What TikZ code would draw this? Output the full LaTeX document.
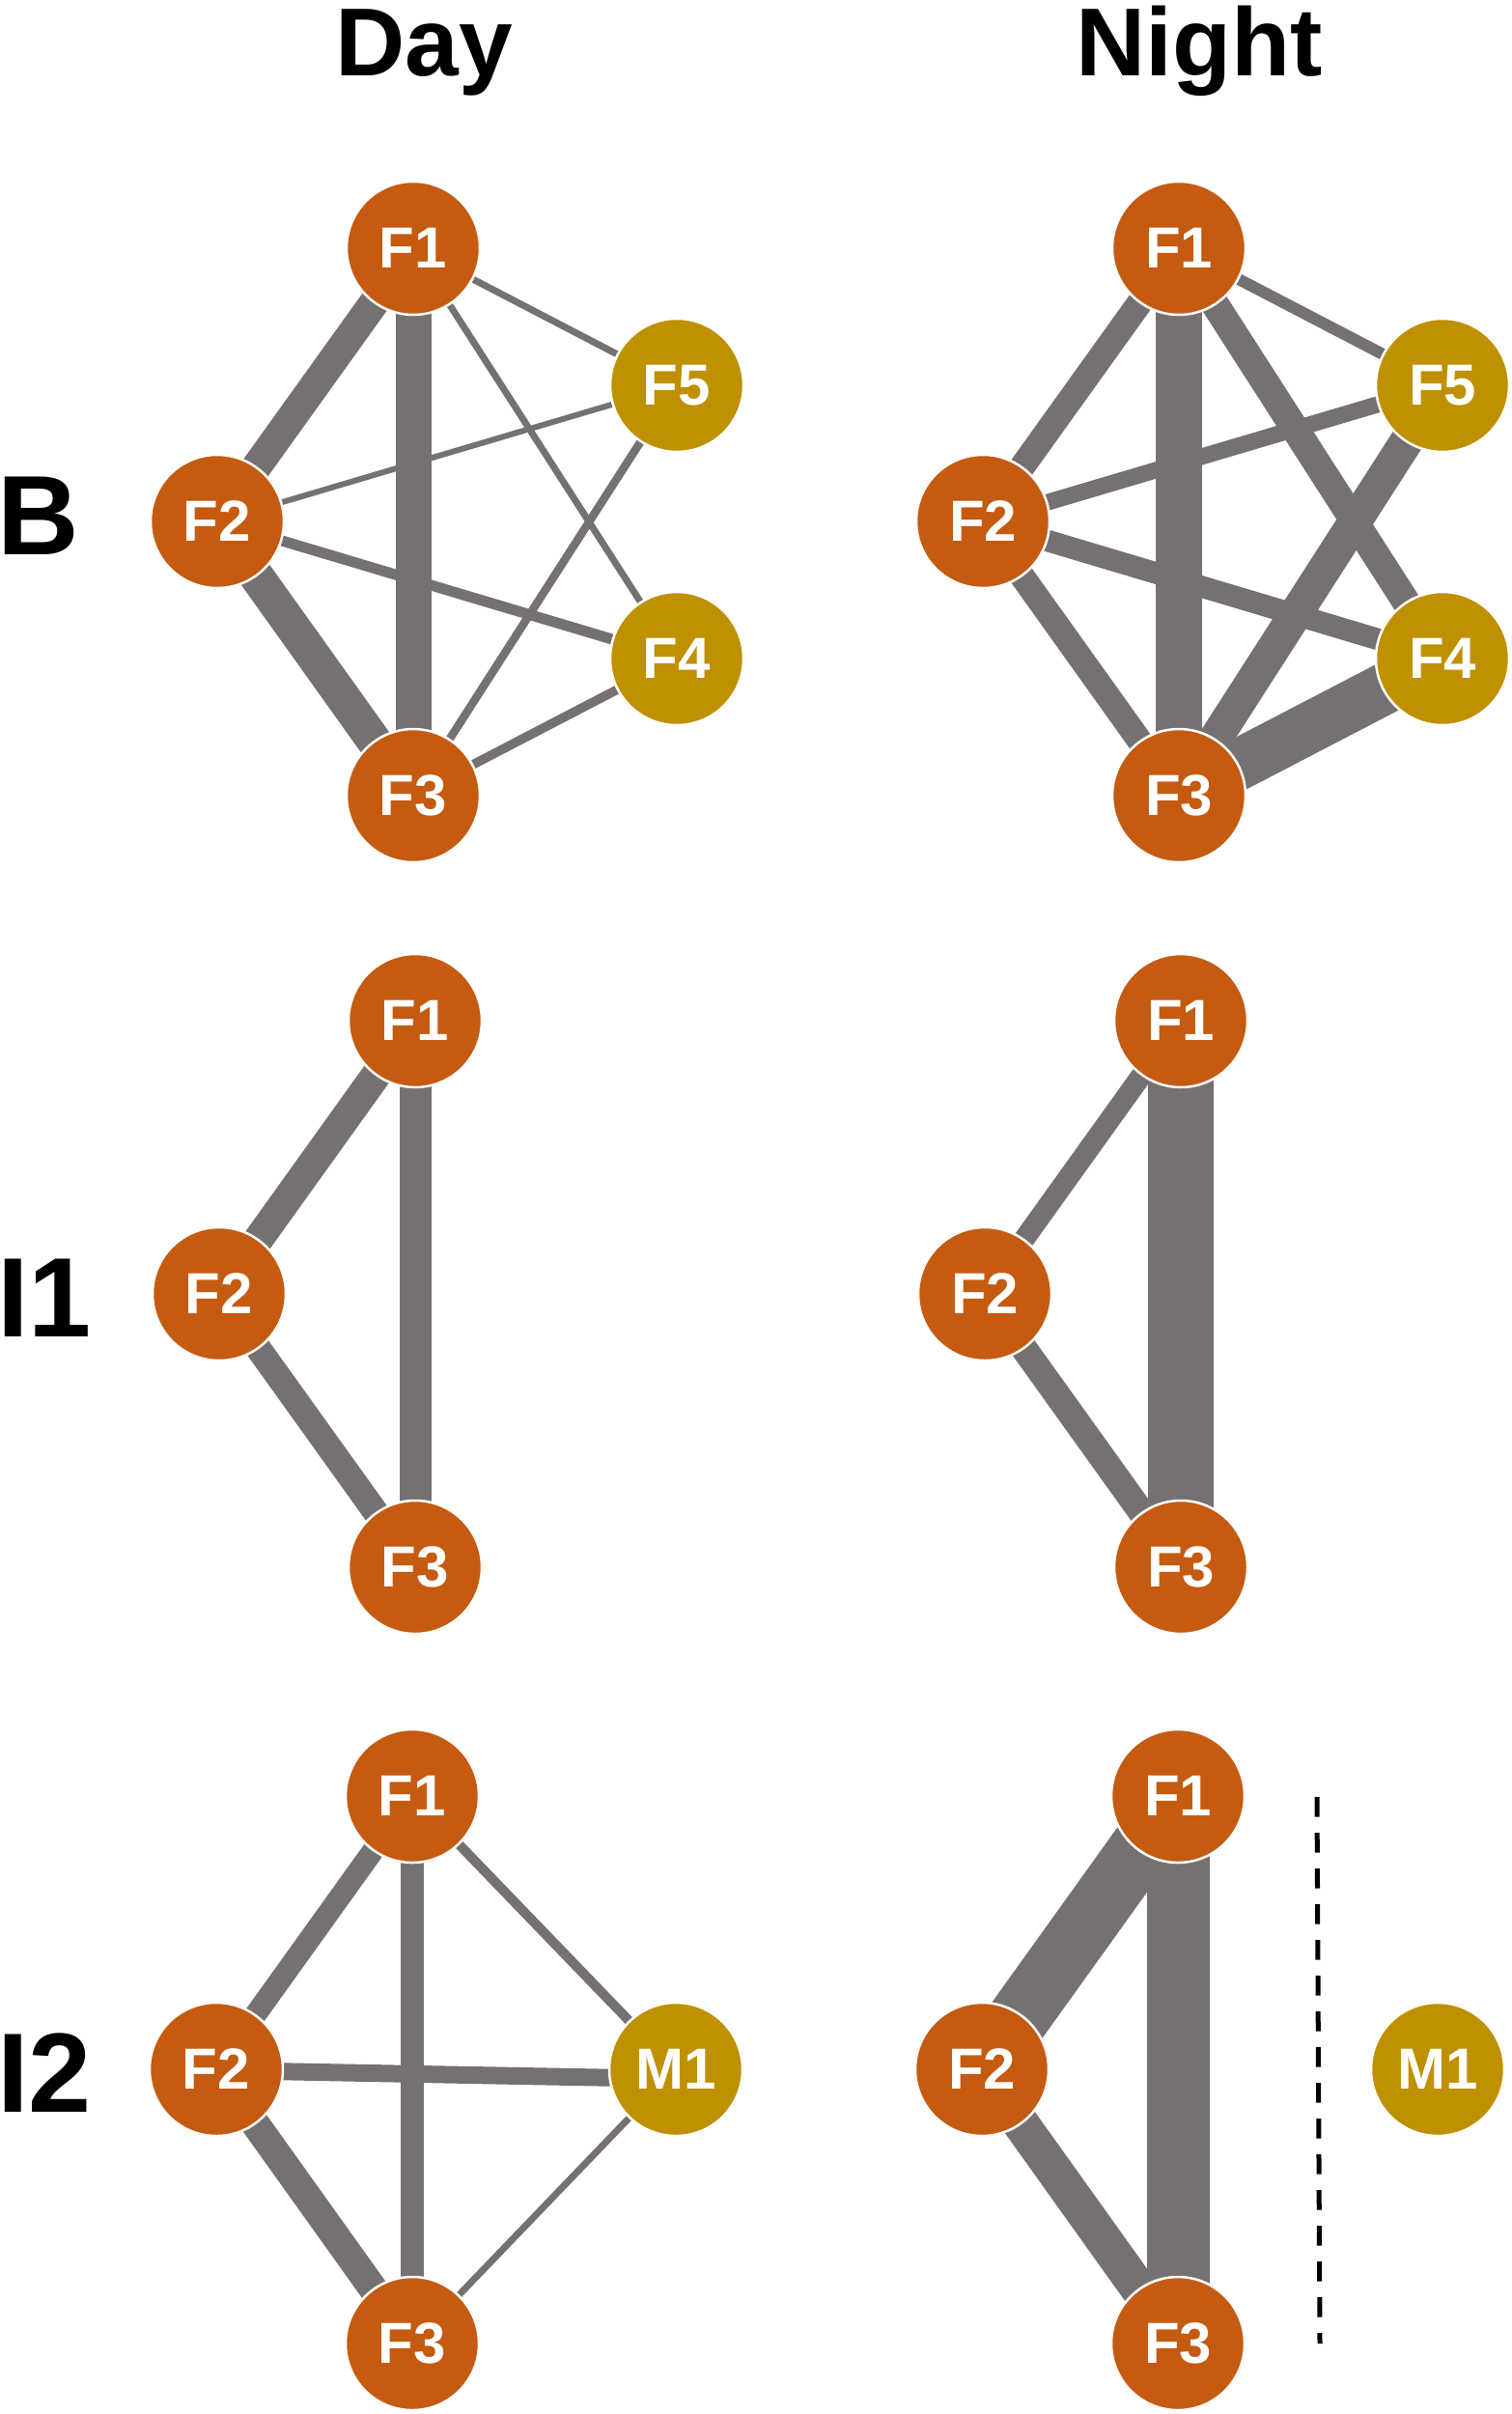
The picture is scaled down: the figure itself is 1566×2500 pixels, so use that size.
\documentclass[tikz,border=0pt]{standalone}
\usepackage{fontspec}
\setmainfont{Liberation Sans}
\usetikzlibrary{calc,backgrounds}
\definecolor{forange}{HTML}{C55A11}
\definecolor{fgold}{HTML}{BF9000}
\definecolor{egray}{HTML}{767171}
\begin{document}
\begin{tikzpicture}[x=0.5pt,y=-0.5pt,
  fnode/.style={circle,minimum size=69pt,inner sep=0pt,draw=white,line width=1.25pt,text=white,font=\fontsize{30pt}{36pt}\selectfont\bfseries},
  fem/.style={fnode,fill=forange},
  mal/.style={fnode,fill=fgold},
  ew/.style={draw=egray,line width=#1*0.5pt},
  ttl/.style={font=\fontsize{50pt}{60pt}\selectfont\bfseries,anchor=base,inner sep=0pt},
  rowl/.style={font=\fontsize{58.5pt}{70pt}\selectfont\bfseries,anchor=base west,inner sep=0pt},
  divider/.style={draw=black,line width=2.5pt,dash pattern=on 10.25pt off 8.25pt}]
\useasboundingbox (0,0) rectangle (1566,2500);

% titles
\node[ttl] (tday) at (439,78) {Day};
\node[ttl] (tnight) at (1242,78) {Night};
\node[rowl] (rB) at (-3,574) {B};
\node[rowl] (rI1) at (-3,1384) {I1};
\node[rowl] (rI2) at (-3,2187) {I2};

% ---- B day
\node[fem] (bd1) at (428,257) {F1};
\node[fem] (bd2) at (225,540) {F2};
\node[fem] (bd3) at (428,824) {F3};
\node[mal] (bd5) at (701,399) {F5};
\node[mal] (bd4) at (701,682) {F4};
% ---- B night
\node[fem] (bn1) at (1221,257) {F1};
\node[fem] (bn2) at (1018,540) {F2};
\node[fem] (bn3) at (1221,824) {F3};
\node[mal] (bn5) at (1494,399) {F5};
\node[mal] (bn4) at (1494,682) {F4};
% ---- I1 day
\node[fem] (id1) at (430,1057) {F1};
\node[fem] (id2) at (227,1340) {F2};
\node[fem] (id3) at (430,1623) {F3};
% ---- I1 night
\node[fem] (in1) at (1223,1057) {F1};
\node[fem] (in2) at (1020,1340) {F2};
\node[fem] (in3) at (1223,1623) {F3};
% ---- I2 day
\node[fem] (jd1) at (427,1860) {F1};
\node[fem] (jd2) at (224,2143) {F2};
\node[fem] (jd3) at (427,2427) {F3};
\node[mal] (jdm) at (700,2143) {M1};
% ---- I2 night
\node[fem] (jn1) at (1220,1860) {F1};
\node[fem] (jn2) at (1017,2143) {F2};
\node[fem] (jn3) at (1220,2427) {F3};
\node[mal] (jnm) at (1489,2143) {M1};

% divider
\coordinate (dtop) at (1364,1861);
\coordinate (dbot) at (1367,2427);
\draw[divider] (dtop) -- (dbot);

\begin{scope}[on background layer]
% B day
\draw[ew=31] (bd1.center) -- (bd2.center);
\draw[ew=36] (bd2.center) -- (bd3.center);
\draw[ew=37] (bd1.center) -- (bd3.center);
\draw[ew=7] (bd1.center) -- (bd5.center);
\draw[ew=7] (bd1.center) -- (bd4.center);
\draw[ew=6] (bd2.center) -- (bd5.center);
\draw[ew=11] (bd2.center) -- (bd4.center);
\draw[ew=8.5] (bd3.center) -- (bd5.center);
\draw[ew=9.5] (bd3.center) -- (bd4.center);
% B night
\draw[ew=48] (bn1.center) -- (bn3.center);
\draw[ew=26.5] (bn1.center) -- (bn2.center);
\draw[ew=26] (bn2.center) -- (bn3.center);
\draw[ew=12] (bn1.center) -- (bn5.center);
\draw[ew=29] (bn1.center) -- (bn4.center);
\draw[ew=17] (bn2.center) -- (bn5.center);
\draw[ew=22.5] (bn2.center) -- (bn4.center);
\draw[ew=34.5] (bn3.center) -- (bn5.center);
\draw[ew=53] (bn3.center) -- (bn4.center);
% I1 day
\draw[ew=33] (id1.center) -- (id3.center);
\draw[ew=31] (id1.center) -- (id2.center);
\draw[ew=26.6] (id2.center) -- (id3.center);
% I1 night
\draw[ew=68] (in1.center) -- (in3.center);
\draw[ew=21.6] (in1.center) -- (in2.center);
\draw[ew=27.5] (in2.center) -- (in3.center);
% I2 day
\draw[ew=24.5] (jd1.center) -- (jd3.center);
\draw[ew=22.6] (jd1.center) -- (jd2.center);
\draw[ew=29.8] (jd2.center) -- (jd3.center);
\draw[ew=10] (jd1.center) -- (jdm.center);
\draw[ew=18] ($(jd2.center)+(0,1)$) -- ($(jdm.center)+(0,10)$);
\draw[ew=7] (jd3.center) -- (jdm.center);
% I2 night
\draw[ew=65] (jn1.center) -- (jn3.center);
\draw[ew=64] (jn1.center) -- (jn2.center);
\draw[ew=38] (jn2.center) -- (jn3.center);
\end{scope}
\end{tikzpicture}
\end{document}
